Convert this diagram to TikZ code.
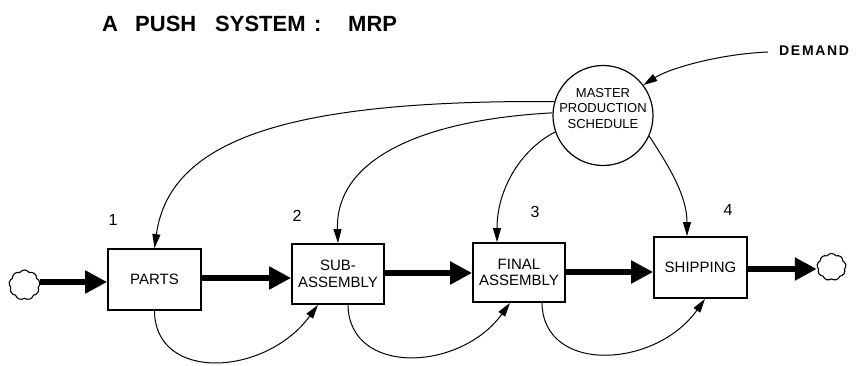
\documentclass[tikz,border=0pt]{standalone}
\usepackage{fontspec}
\setmainfont{Liberation Sans}
\newfontfamily\spacedfont[LetterSpace=12]{Liberation Sans}
\usetikzlibrary{arrows.meta,shapes.symbols}
\begin{document}
\begin{tikzpicture}[x=1pt,y=-1pt,
  stage/.style={draw,line width=1.8pt,minimum width=92pt,minimum height=60pt,inner sep=0pt,align=center,
    font=\fontsize{15}{16.5}\selectfont},
  flow/.style={line width=5.3pt,-{Triangle[length=22pt,width=22pt]}},
  info/.style={line width=1pt,-{Triangle[length=14pt,width=8pt]}},
  puff/.style={draw,line width=1.1pt,cloud,cloud puffs=9,cloud puff arc=110,aspect=1,inner sep=0pt},
  num/.style={font=\fontsize{16}{18}\selectfont,inner sep=0pt},
  ttl/.style={font=\fontsize{22}{24}\selectfont\bfseries,anchor=base west,inner sep=0pt}]
\useasboundingbox (0,0) rectangle (857,366);

% title
\node[ttl] (t1) at (102,32) {A};
\node[ttl] (t2) at (135,32) {PUSH};
\node[ttl] (t3) at (215,32) {SYSTEM};
\node[ttl] (t4) at (314,32) {:};
\node[ttl] (t5) at (348,32) {MRP};

% nodes
\node[puff,minimum width=31pt,minimum height=30pt] (cl) at (24.5,285) {};
\node[puff,minimum width=29pt,minimum height=27pt] (cr) at (831.5,267) {};
\node[stage,minimum width=93pt,minimum height=61pt] (parts) at (154.5,279.5) {PARTS};
\node[stage] (sub) at (338,274) {SUB-\\ASSEMBLY};
\node[stage,minimum height=59pt] (final) at (519,272.5) {FINAL\\ASSEMBLY};
\node[stage,minimum width=93pt,minimum height=61pt] (ship) at (700.5,267.5) {SHIPPING};

\node[draw,circle,line width=1.2pt,minimum size=100pt,inner sep=0pt] (mps) at (603,115.5) {};
\node[align=center,inner sep=0pt,font=\fontsize{13}{15.5}\selectfont] (mpstext) at (603,108.5) {MASTER\\PRODUCTION\\SCHEDULE};

\node[anchor=base west,inner sep=0pt,font=\fontsize{14}{15}\selectfont\spacedfont\bfseries] (demand) at (779,56) {DEMAND};

\node[num] (n1) at (113,220) {1};
\node[num] (n2) at (297,216) {2};
\node[num] (n3) at (535,212) {3};
\node[num] (n4) at (728,210) {4};

% material flow
\draw[flow] (cl.east |- 0,282) -- (parts.west |- 0,282);
\draw[flow] (parts.east |- 0,278) -- (sub.west |- 0,278);
\draw[flow] (sub.east |- 0,273) -- (final.west |- 0,273);
\draw[flow] (final.east |- 0,272) -- (ship.west |- 0,272);
\draw[flow] (ship.east |- 0,269) -- (cr.west |- 0,269);

% demand
\draw[info] (demand.west |- 0,52) ++(-11,0) coordinate (dstart)
  (dstart) .. controls (720,54) and (670,68) .. (mps.37);

% schedule to stages
\draw[info] (mps.164) .. controls (300,100) and (170,135) .. (parts.north);
\draw[info] (mps.177) .. controls (420,120) and (335,160) .. (sub.north);
\draw[info] (mps.199) .. controls (520,150) and (497,190) .. (final.north west -| 497,0);
\draw[info] (mps.-24) .. controls (668,165) and (687,195) .. (ship.north west -| 687,0);

% feedback below
\draw[info] (parts.south) .. controls (155,382) and (265,377) .. (sub.south west -| 318,0);
\draw[info] (sub.south west -| 348,0) .. controls (349,376) and (460,372) .. (final.south west -| 510,0);
\draw[info] (final.south west -| 542,0) .. controls (543,374) and (655,369) .. (ship.south west -| 705,0);
\end{tikzpicture}
\end{document}
